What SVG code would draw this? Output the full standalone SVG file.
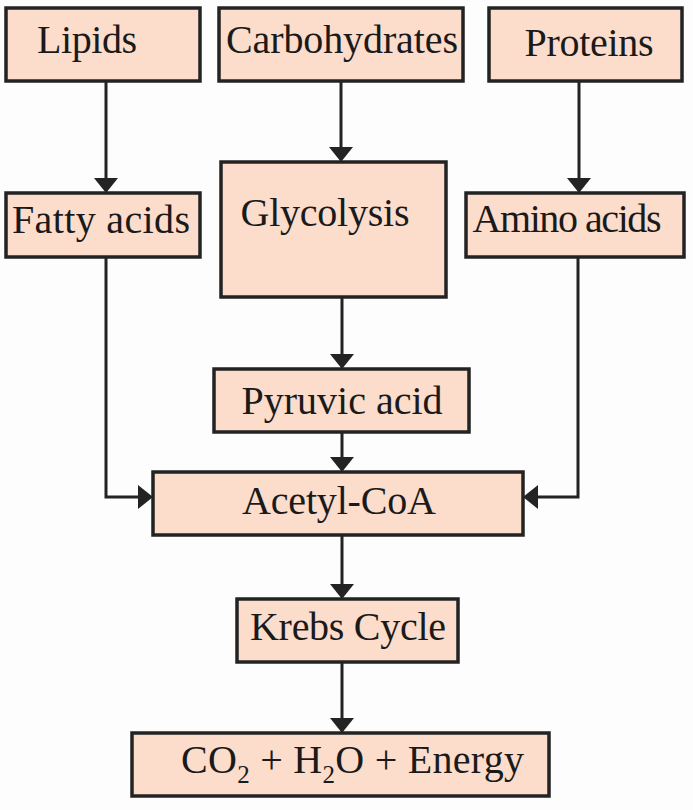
<svg xmlns="http://www.w3.org/2000/svg" width="693" height="810" viewBox="0 0 693 810">
<defs>
<style>
.box{fill:#fcdccb;stroke:#232323;stroke-width:3.5}
.t{font-family:"Liberation Serif","Times New Roman",serif;font-size:40px;fill:#1a1a1a;text-anchor:middle}
.c{fill:none;stroke:#232323;stroke-width:3}
</style>
</defs>
<rect width="693" height="810" fill="#fdfdfd"/>
<g id="connectors">
<path class="c" d="M106,81 V178" />
<polygon points="94,178 118,178 106,193" fill="#232323"/>
<path class="c" d="M341,81 V147" />
<polygon points="329,147 353,147 341,162" fill="#232323"/>
<path class="c" d="M579,81 V178" />
<polygon points="567,178 591,178 579,193" fill="#232323"/>
<path class="c" d="M106,257 V497 H138" />
<polygon points="138,485 138,509 153,497" fill="#232323"/>
<path class="c" d="M578,257 V497 H538" />
<polygon points="538,485 538,509 523,497" fill="#232323"/>
<path class="c" d="M342,297 V354" />
<polygon points="330,354 354,354 342,369" fill="#232323"/>
<path class="c" d="M342,432 V457" />
<polygon points="330,457 354,457 342,472" fill="#232323"/>
<path class="c" d="M342,535 V584" />
<polygon points="330,584 354,584 342,599" fill="#232323"/>
<path class="c" d="M342,662 V718" />
<polygon points="330,718 354,718 342,733" fill="#232323"/>
</g>
<g id="lipids"><rect class="box" x="6" y="8" width="194" height="73"/><text class="t" x="87" y="53" textLength="100">Lipids</text></g>
<g id="carbohydrates"><rect class="box" x="219" y="8" width="244" height="73"/><text class="t" x="342" y="53" textLength="232">Carbohydrates</text></g>
<g id="proteins"><rect class="box" x="489" y="8" width="193" height="73"/><text class="t" x="589" y="56" textLength="129">Proteins</text></g>
<g id="fatty-acids"><rect class="box" x="6" y="193" width="194" height="64"/><text class="t" x="101" y="233" textLength="178">Fatty acids</text></g>
<g id="glycolysis"><rect class="box" x="221" y="162" width="225" height="135"/><text class="t" x="325" y="226" textLength="169">Glycolysis</text></g>
<g id="amino-acids"><rect class="box" x="466" y="193" width="218" height="64"/><text class="t" x="567" y="232" textLength="189">Amino acids</text></g>
<g id="pyruvic-acid"><rect class="box" x="214" y="369" width="255" height="63"/><text class="t" x="342" y="414" textLength="201">Pyruvic acid</text></g>
<g id="acetyl-coa"><rect class="box" x="153" y="472" width="370" height="63"/><text class="t" x="339" y="514" textLength="194">Acetyl-CoA</text></g>
<g id="krebs-cycle"><rect class="box" x="237" y="599" width="221" height="63"/><text class="t" x="348" y="640" textLength="196">Krebs Cycle</text></g>
<g id="products"><rect class="box" x="132" y="733" width="417" height="63"/>
<text class="t" x="181" y="773" style="text-anchor:start" textLength="343">CO<tspan font-size="25" dy="10">2</tspan><tspan dy="-10">  + H</tspan><tspan font-size="25" dy="10">2</tspan><tspan dy="-10">O + Energy</tspan></text>
</g>
</svg>
